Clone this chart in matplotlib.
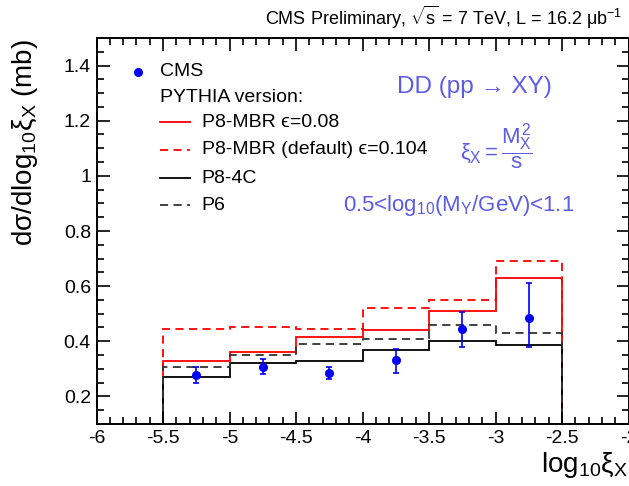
import numpy as np
import matplotlib
matplotlib.use("Agg")
import matplotlib.pyplot as plt
from matplotlib.ticker import MultipleLocator

plt.rcParams['font.family'] = ['Liberation Sans', 'DejaVu Sans']
plt.rcParams['mathtext.fontset'] = 'custom'
plt.rcParams['mathtext.rm'] = 'Liberation Sans'
plt.rcParams['mathtext.it'] = 'Liberation Sans'
plt.rcParams['mathtext.bf'] = 'Liberation Sans:bold'

#=================
# data
#=================
edges = [-5.5, -5.0, -4.5, -4.0, -3.5, -3.0, -2.5]
centers = [-5.25, -4.75, -4.25, -3.75, -3.25, -2.75]

p8mbr_008 = [0.33, 0.36, 0.415, 0.44, 0.51, 0.63]
p8mbr_0104 = [0.445, 0.45, 0.445, 0.52, 0.55, 0.69]
p8_4c = [0.27, 0.32, 0.33, 0.37, 0.40, 0.385]
p6 = [0.305, 0.35, 0.39, 0.41, 0.46, 0.43]

cms = [0.277, 0.308, 0.285, 0.333, 0.445, 0.484]
cms_err_lo = [0.027, 0.026, 0.023, 0.047, 0.065, 0.105]
cms_err_hi = [0.030, 0.029, 0.022, 0.040, 0.062, 0.127]

blue_txt = '#5c5ce6'
dash = (4.5, 3)

#=================
# figure
#=================
fig = plt.figure(figsize=(6.29, 4.86), dpi=100)
ax = fig.add_axes([96.5 / 629, 1 - 424 / 486, 532 / 629, 386 / 486])

ax.stairs(p8mbr_008, edges, baseline=0, color='red', lw=1.3)
ax.stairs(p8mbr_0104, edges, baseline=0, color='red', lw=1.3, linestyle=(0, dash))
ax.stairs(p8_4c, edges, baseline=0, color='black', lw=1.3)
ax.stairs(p6, edges, baseline=0, color='#333333', lw=1.3, linestyle=(0, dash))

ax.errorbar(
    centers, cms,
    yerr=[cms_err_lo, cms_err_hi],
    fmt='o', color='blue', markersize=5.5,
    elinewidth=1.2, capsize=2.5, capthick=1.2
)

ax.set_xlim(-6, -2)
ax.set_ylim(0.1, 1.5)
ax.xaxis.set_minor_locator(MultipleLocator(0.1))
ax.yaxis.set_minor_locator(MultipleLocator(0.05))
ax.set_xticks([-6, -5.5, -5, -4.5, -4, -3.5, -3, -2.5, -2])
ax.set_xticklabels(['-6', '-5.5', '-5', '-4.5', '-4', '-3.5', '-3', '-2.5', '-2'])
ax.set_yticks([0.2, 0.4, 0.6, 0.8, 1.0, 1.2, 1.4])
ax.set_yticklabels(['0.2', '0.4', '0.6', '0.8', '1', '1.2', '1.4'])

ax.tick_params(which='both', direction='in', top=True, right=True,
               labelsize=14, width=1.2)
ax.tick_params(which='major', length=9, pad=4)
ax.tick_params(which='minor', length=5)
for s in ax.spines.values():
    s.set_linewidth(1.4)

#=================
# legend (drawn by hand, ROOT style)
#=================
tr = ax.transAxes
ax.plot([0.078], [0.912], 'o', color='blue', markersize=5.5, transform=tr, clip_on=False)
ax.text(0.119, 0.912, 'CMS', transform=tr, fontsize=14, va='center')
ax.text(0.119, 0.847, 'PYTHIA version:', transform=tr, fontsize=14, va='center')

leg_items = [
    ('red', '-', 'P8-MBR ϵ=0.08', 0.782),
    ('red', (0, dash), 'P8-MBR (default) ϵ=0.104', 0.710),
    ('black', '-', 'P8-4C', 0.637),
    ('#333333', (0, dash), 'P6', 0.567),
]
for col, ls, lab, yy in leg_items:
    ax.plot([0.119, 0.176], [yy, yy], color=col, lw=1.3, linestyle=ls, transform=tr)
    ax.text(0.198, yy, lab, transform=tr, fontsize=14, va='center')

ax.text(0.565, 0.873, 'DD (pp → XY)', transform=tr, fontsize=17.5,
        color=blue_txt, va='center')
ax.text(0.752, 0.718, r'$\xi_X = \dfrac{M_X^2}{s}$', transform=tr, fontsize=16,
        color=blue_txt, va='center', ha='center')
ax.text(0.463, 0.567, r'0.5<log$_{10}$(M$_Y$/GeV)<1.1', transform=tr, fontsize=16,
        color=blue_txt, va='center')

#=================
# labels
#=================
fig.text(622 / 629, 1 - 17 / 486,
         r'CMS Preliminary, $\sqrt{s}$ = 7 TeV, L = 16.2 μb$^{-1}$',
         fontsize=13, ha='right', va='center')
fig.text(628 / 629, 1 - 472 / 486, r'log$_{10}$ξ$_X$', fontsize=20,
         ha='right', va='baseline')
fig.text(25 / 629, 1 - 39 / 486, r'dσ/dlog$_{10}$ξ$_X$ (mb)', fontsize=20,
         rotation=90, ha='center', va='top')

plt.savefig('out.png', dpi=100)
plt.close()
